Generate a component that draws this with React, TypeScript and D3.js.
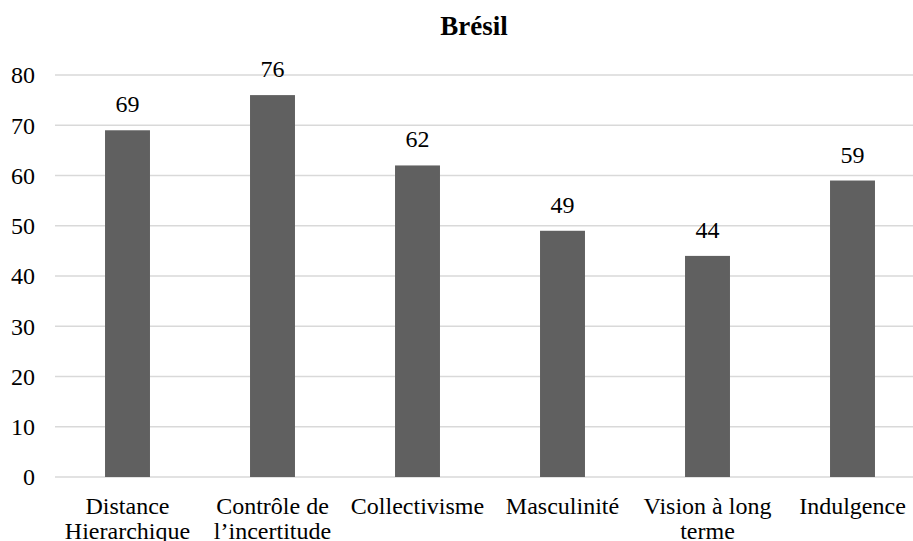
import React, { useEffect, useRef } from 'react';
import * as d3 from 'd3';

const title = 'Brésil';
const categories: string[][] = [
  ['Distance', 'Hierarchique'],
  ['Contrôle de', 'l\u2019incertitude'],
  ['Collectivisme'],
  ['Masculinité'],
  ['Vision à long', 'terme'],
  ['Indulgence'],
];
const scores: number[] = [69, 76, 62, 49, 44, 59];
const yTicks: number[] = [0, 10, 20, 30, 40, 50, 60, 70, 80];

const width = 913;
const height = 541;
const margin = { top: 75, right: -12, bottom: 64, left: 55 };
const font = 'Liberation Serif, DejaVu Serif, serif';

export default function App() {
  const ref = useRef<SVGSVGElement>(null);

  useEffect(() => {
    draw();
  }, []);

  function draw() {
    const svg = d3.select(ref.current);
    svg.selectAll('*').remove();

    const keys = categories.map((c) => c.join(' '));

    const x = d3.scaleBand()
      .domain(keys)
      .range([margin.left, width - margin.right])
      .paddingInner(0.69)
      .paddingOuter(0.345);

    const y = d3.scaleLinear()
      .domain([0, 80])
      .range([height - margin.bottom, margin.top]);

    // gridlines
    svg.append('g')
      .selectAll('line')
      .data(yTicks)
      .enter()
      .append('line')
      .attr('x1', margin.left)
      .attr('x2', width)
      .attr('y1', (d) => y(d))
      .attr('y2', (d) => y(d))
      .attr('stroke', '#d9d9d9')
      .attr('stroke-width', 1.5);

    // y tick labels
    svg.append('g')
      .selectAll('text')
      .data(yTicks)
      .enter()
      .append('text')
      .attr('x', 35)
      .attr('y', (d) => y(d))
      .attr('dy', '0.35em')
      .attr('text-anchor', 'end')
      .attr('font-family', font)
      .attr('font-size', 24)
      .attr('fill', '#000')
      .text((d) => d);

    // bars
    svg.append('g')
      .selectAll('rect')
      .data(scores)
      .enter()
      .append('rect')
      .attr('x', (d, i) => x(keys[i])!)
      .attr('y', (d) => y(d))
      .attr('width', x.bandwidth())
      .attr('height', (d) => y(0) - y(d))
      .attr('fill', '#606060');

    // value labels
    svg.append('g')
      .selectAll('text')
      .data(scores)
      .enter()
      .append('text')
      .attr('x', (d, i) => x(keys[i])! + x.bandwidth() / 2)
      .attr('y', (d) => y(d) - 18)
      .attr('text-anchor', 'middle')
      .attr('font-family', font)
      .attr('font-size', 24)
      .attr('fill', '#000')
      .text((d) => d);

    // category labels
    const cat = svg.append('g')
      .selectAll('text')
      .data(categories)
      .enter()
      .append('text')
      .attr('x', (d, i) => x(keys[i])! + x.bandwidth() / 2)
      .attr('y', 514)
      .attr('text-anchor', 'middle')
      .attr('font-family', font)
      .attr('font-size', 24)
      .attr('fill', '#000');

    cat.selectAll('tspan')
      .data((d) => d)
      .enter()
      .append('tspan')
      .attr('x', function () {
        return (this as SVGTSpanElement).parentElement!.getAttribute('x');
      })
      .attr('dy', (d, i) => (i === 0 ? 0 : 25))
      .text((d) => d);

    // title
    svg.append('text')
      .attr('x', 474)
      .attr('y', 35)
      .attr('text-anchor', 'middle')
      .attr('font-family', font)
      .attr('font-size', 27)
      .attr('font-weight', 'bold')
      .attr('fill', '#000')
      .text(title);
  }

  return (
    <svg
      ref={ref}
      width={width}
      height={height}
      style={{ position: 'absolute', left: 0, top: 0, background: '#fff' }}
    />
  );
}
